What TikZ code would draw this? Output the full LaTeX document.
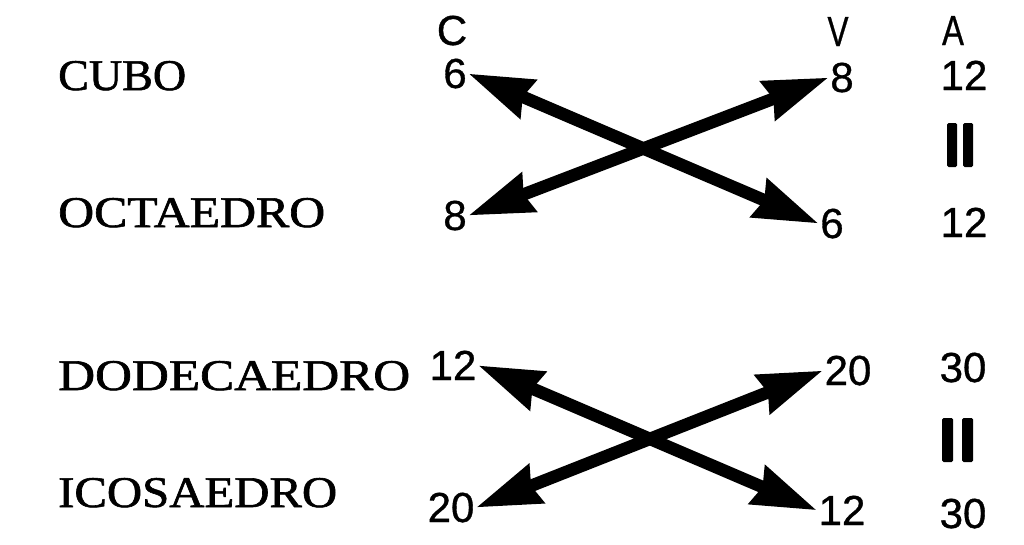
\documentclass[tikz,border=0pt]{standalone}
\usepackage{fontspec}
\setmainfont{Liberation Serif}
\newfontfamily\namefont[FakeBold=1.3]{Liberation Serif}
\newfontfamily\numfont[FakeBold=0.8]{Liberation Sans}
\usetikzlibrary{arrows.meta}
\newcommand{\polylabel}[2]{\resizebox{#1}{29pt}{#2}}
\tikzset{
  polyname/.style={anchor=base west, inner sep=0pt, font=\namefont\fontsize{43}{43}\selectfont},
  num/.style={anchor=base, inner sep=1.5pt, font=\numfont\fontsize{42}{42}\selectfont},
  head/.style={anchor=base, inner sep=0pt, font=\numfont\fontsize{42}{42}\selectfont},
  dualarrow/.style={line width=12.5pt, {Stealth[length=64pt,width=40pt,inset=5pt]}-{Stealth[length=64pt,width=40pt,inset=5pt]}},
  eqbar/.style={fill=black, rounded corners=1.5pt}
}
\begin{document}
\begin{tikzpicture}[x=1pt,y=-1pt]
\useasboundingbox (0,0) rectangle (1024,544);
% names
\node[polyname] (cubo) at (58,90) {\polylabel{128pt}{CUBO}};
\node[polyname] (octa) at (58,227) {\polylabel{267pt}{OCTAEDRO}};
\node[polyname] (dode) at (58,390) {\polylabel{352pt}{DODECAEDRO}};
\node[polyname] (icosa) at (58,507) {\polylabel{279pt}{ICOSAEDRO}};
% headers
\node[head] (hc) at (452,45) {C};
\node[head] (hv) at (838,46) {\scalebox{0.75}[1]{V}};
\node[head] (ha) at (953,45) {\scalebox{0.78}[1]{A}};
% numbers
\node[num] (c1) at (455,88) {6};
\node[num] (v1) at (842,92) {8};
\node[num] (a1) at (964,90) {12};
\node[num] (c2) at (455,230) {8};
\node[num] (v2) at (832,238) {6};
\node[num] (a2) at (964,237) {12};
\node[num] (c3) at (453,380) {12};
\node[num] (v3) at (848,385) {20};
\node[num] (a3) at (963,382) {30};
\node[num] (c4) at (451,522) {20};
\node[num] (v4) at (842,525) {12};
\node[num] (a4) at (963,528) {30};
% arrows
\draw[dualarrow] (c1.east) -- (v2.west);
\draw[dualarrow] (c2.east) -- (v1.west);
\draw[dualarrow] (c3.east) -- (v4.west);
\draw[dualarrow] (c4.east) -- (v3.west);
% equal signs (vertical)
\fill[eqbar] (947,123) rectangle (957,167);
\fill[eqbar] (963,123) rectangle (973,167);
\fill[eqbar] (942,418) rectangle (953,462);
\fill[eqbar] (962,418) rectangle (973,462);
\end{tikzpicture}
\end{document}
